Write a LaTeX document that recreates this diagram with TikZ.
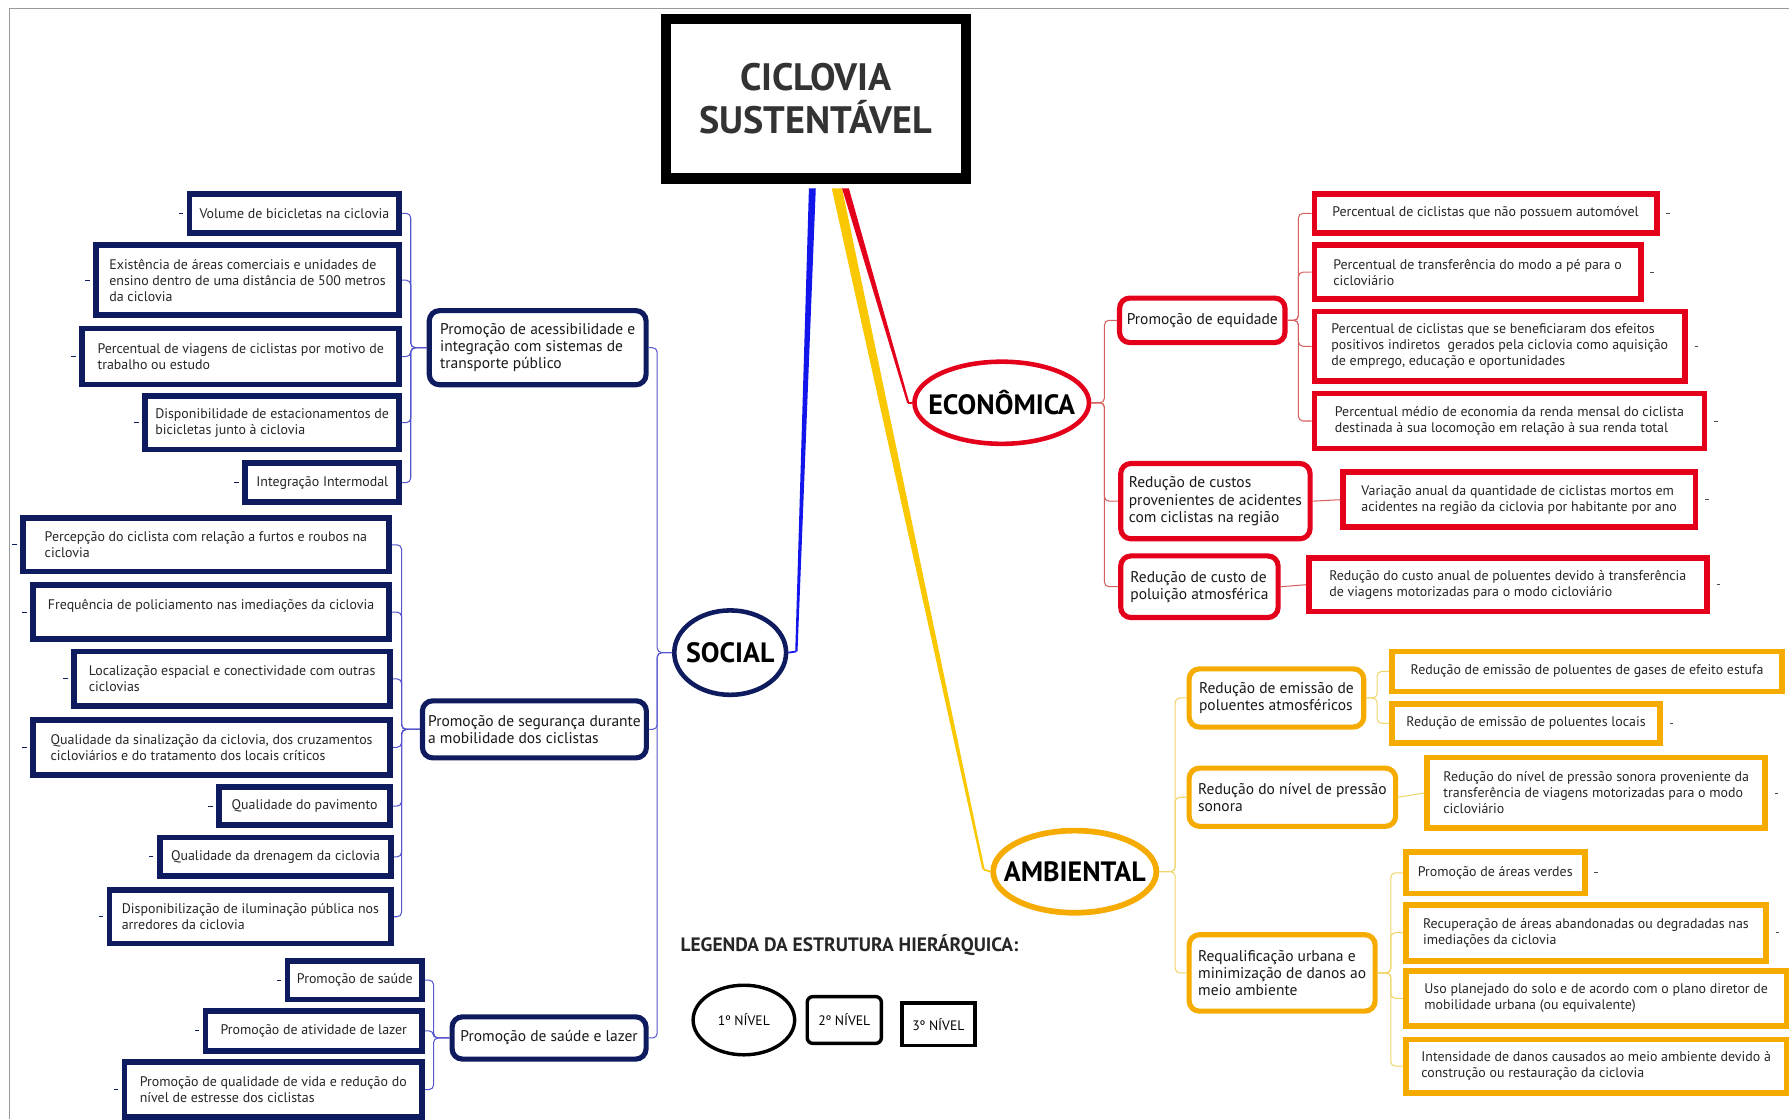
\documentclass[tikz,border=0pt]{standalone}
\usepackage{fontspec}
\setmainfont{PT Sans}
\usetikzlibrary{shapes.geometric, positioning, calc}

\definecolor{navy}{RGB}{14,27,94}
\definecolor{azul}{RGB}{18,22,235}
\definecolor{slinha}{RGB}{85,85,205}
\definecolor{verm}{RGB}{228,0,27}
\definecolor{elinha}{RGB}{215,95,95}
\definecolor{laranja}{RGB}{246,171,0}
\definecolor{amarelo}{RGB}{250,200,0}
\definecolor{alinha}{RGB}{240,212,105}

\tikzset{
  niveltres/.style={draw=#1, line width=5pt, fill=white, anchor=north west, align=left,
    inner xsep=5pt, inner ysep=2pt, text=black!85, font=\fontsize{12.2}{14}\selectfont},
  niveldois/.style={draw=#1, line width=4.5pt, rounded corners=9pt, fill=white, anchor=north west,
    align=left, inner xsep=5pt, inner ysep=2pt, text=black!90, font=\fontsize{13.6}{15}\selectfont},
  nivelum/.style={ellipse, draw=#1, line width=4pt, fill=white, inner sep=0pt,
    font=\fontsize{24.5}{26}\selectfont\bfseries},
  wh/.style n args={2}{minimum width=#1pt, minimum height=#2pt},
  ramo/.style={line width=0.9pt, rounded corners=4pt},
}

\begin{document}
\begin{tikzpicture}[x=1pt, y=-1pt]
  \useasboundingbox (0,0) rectangle (1568,981);
  \draw[black!40, line width=0.8pt] (8,981) -- (8,7) -- (1568,7);

  % raiz
  \node[draw, line width=9pt, minimum width=263pt, minimum height=140pt, align=center,
    text=black!80, font=\fontsize{33.5}{37}\selectfont\bfseries] (title) at (715,86.5) {CICLOVIA\\SUSTENTÁVEL};

  % 1o nivel
  \node[nivelum=navy, wh={98}{74}] (soc) at (640,572) {\makebox[0pt]{SOCIAL}};
  \node[nivelum=verm, wh={153}{72}] (eco) at (878,353) {\makebox[0pt]{ECONÔMICA}};
  \node[nivelum=laranja, line width=5pt, wh={143}{72}] (amb) at (942,764) {\makebox[0pt]{AMBIENTAL}};

  \coordinate (bj) at (698,571);
  \coordinate (rj) at (796,353);
  \coordinate (yj) at (862,762);
  \fill[azul] ($(title.south)+(-6,4)$) -- ($(title.south)+(0,4)$) -- ($(bj)+(1,0)$) -- ($(bj)+(-1,0)$) -- cycle;
  \fill[amarelo] ($(title.south)+(14,4)$) -- ($(title.south)+(23,4)$) -- ($(yj)+(1,0)$) -- ($(yj)+(-1,0)$) -- cycle;
  \fill[verm] ($(title.south)+(23,4)$) -- ($(title.south)+(29,4)$) -- ($(rj)+(1,0)$) -- ($(rj)+(-1,0)$) -- cycle;
  \draw[azul, line width=1.5pt] (bj) -- (soc.east);
  \draw[verm, line width=1.5pt] (rj) -- (eco.west);
  \draw[amarelo, line width=1.5pt] (yj) -- (amb.west);

  % social
  \node[niveldois=navy, wh={190}{65}] (s1) at (374,270) {Promoção de acessibilidade e\\integração com sistemas de\\transporte público};
  \node[niveldois=navy, wh={196}{50}] (s2) at (368,612) {Promoção de segurança durante\\a mobilidade dos ciclistas};
  \node[niveldois=navy, wh={170}{37}] (s3) at (394,889) {Promoção de saúde e lazer};

  \node[niveltres=navy, wh={184}{34}] (vol) at (163.5,167.5) {Volume de bicicletas na ciclovia};
  \node[niveltres=navy, wh={266}{61}] (com) at (81.5,212.5) {Existência de áreas comerciais e unidades de\\ensino dentro de uma distância de 500 metros\\da ciclovia};
  \node[niveltres=navy, wh={278}{49}] (via) at (69.5,285.5) {Percentual de viagens de ciclistas por motivo de\\trabalho ou estudo};
  \node[niveltres=navy, wh={223}{47}] (est) at (124.5,344.5) {Disponibilidade de estacionamentos de\\bicicletas junto à ciclovia};
  \node[niveltres=navy, wh={135}{34}] (int) at (212.5,403.5) {Integração Intermodal};

  \node[niveltres=navy, wh={321}{47}] (fur) at (17.5,451.5) {Percepção do ciclista com relação a furtos e roubos na\\ciclovia};
  \node[niveltres=navy, wh={312}{47}] (pol) at (26.5,510.5) {Frequência de policiamento nas imediações da ciclovia\\~};
  \node[niveltres=navy, wh={277}{48}] (loc) at (62.5,568.5) {Localização espacial e conectividade com outras\\ciclovias};
  \node[niveltres=navy, wh={313}{48}] (sin) at (26.5,628.5) {Qualidade da sinalização da ciclovia, dos cruzamentos\\cicloviários e do tratamento dos locais críticos};
  \node[niveltres=navy, wh={150}{33}] (pav) at (189.5,687.5) {Qualidade do pavimento};
  \node[niveltres=navy, wh={203}{34}] (dre) at (137.5,731.5) {Qualidade da drenagem da ciclovia};
  \node[niveltres=navy, wh={247}{47}] (ilu) at (93.5,777.5) {Disponibilização de iluminação pública nos\\arredores da ciclovia};

  \node[niveltres=navy, wh={118}{34}] (sau) at (249.5,839.5) {Promoção de saúde};
  \node[niveltres=navy, wh={190}{35}] (laz) at (177.5,883.5) {Promoção de atividade de lazer};
  \node[niveltres=navy, wh={261}{48}] (vid) at (106.5,928.5) {Promoção de qualidade de vida e redução do\\nível de estresse dos ciclistas};

  % economica
  \node[niveldois=verm, wh={145}{39}] (e1) at (979,259) {Promoção de equidade};
  \node[niveldois=verm, wh={166}{66}] (e2) at (980,404) {Redução de custos\\provenientes de acidentes\\com ciclistas na região};
  \node[niveldois=verm, wh={138}{54}] (e3) at (980,485) {Redução de custo de\\poluição atmosférica};

  \node[niveltres=verm, wh={300}{34}] (aut) at (1149.5,167.5) {Percentual de ciclistas que não possuem automóvel};
  \node[niveltres=verm, wh={286}{47}] (ape) at (1149.5,212.5) {Percentual de transferência do modo a pé para o\\cicloviário};
  \node[niveltres=verm, wh={325}{61}] (ben) at (1149.5,270.5) {Percentual de ciclistas que se beneficiaram dos efeitos\\positivos indiretos\ \ gerados pela ciclovia como aquisição\\de emprego, educação e oportunidades};
  \node[niveltres=verm, wh={342}{48}] (ren) at (1149.5,342.5) {Percentual médio de economia da renda mensal do ciclista\\destinada à sua locomoção em relação à sua renda total};
  \node[niveltres=verm, wh={309}{48}] (mor) at (1174.5,411.5) {Variação anual da quantidade de ciclistas mortos em\\acidentes na região da ciclovia por habitante por ano};
  \node[niveltres=verm, wh={349}{47}] (cus) at (1144.5,486.5) {Redução do custo anual de poluentes devido à transferência\\de viagens motorizadas para o modo cicloviário};

  % ambiental
  \node[niveldois=laranja, wh={153}{51}] (a1) at (1040,584) {Redução de emissão de\\poluentes atmosféricos};
  \node[niveldois=laranja, wh={181}{51}] (a2) at (1040,671) {Redução do nível de pressão\\sonora};
  \node[niveldois=laranja, wh={163}{67}] (a3) at (1040,817) {Requalificação urbana e\\minimização de danos ao\\meio ambiente};

  \node[niveltres=laranja, wh={342}{35}] (gas) at (1217.5,568.5) {Redução de emissão de poluentes de gases de efeito estufa};
  \node[niveltres=laranja, wh={235}{34}] (lcl) at (1217.5,614.5) {Redução de emissão de poluentes locais};
  \node[niveltres=laranja, wh={296}{62}] (son) at (1248.5,661.5) {Redução do nível de pressão sonora proveniente da\\transferência de viagens motorizadas para o modo\\cicloviário};
  \node[niveltres=laranja, wh={157}{36}] (ver) at (1229.5,744.5) {Promoção de áreas verdes};
  \node[niveltres=laranja, wh={316}{49}] (rec) at (1229.5,790.5) {Recuperação de áreas abandonadas ou degradadas nas\\imediações da ciclovia};
  \node[niveltres=laranja, wh={334}{48}] (uso) at (1229.5,848.5) {Uso planejado do solo e de acordo com o plano diretor de\\mobilidade urbana (ou equivalente)};
  \node[niveltres=laranja, wh={334}{47}] (dan) at (1229.5,908.5) {Intensidade de danos causados ao meio ambiente devido à\\construção ou restauração da ciclovia};

  % barramentos
  \coordinate (sbA) at (360,0);
  \coordinate (sbB) at (352,0);
  \coordinate (sbC) at (380,0);
  \coordinate (sbS) at (576,0);
  \coordinate (ebE) at (968,0);
  \coordinate (ebA) at (1138,0);
  \coordinate (abA) at (1030,0);
  \coordinate (abB) at (1207,0);
  \coordinate (abC) at (1219,0);

  \foreach \c in {s1,s2,s3}
    \draw[ramo, slinha] (soc.west) -- (soc.west -| sbS) |- (\c.east);
  \foreach \c in {vol,com,via,est,int}
    \draw[ramo, slinha] (s1.west) -- (s1.west -| sbA) |- (\c.east);
  \foreach \c in {fur,pol,loc,sin,pav,dre,ilu}
    \draw[ramo, slinha] (s2.west) -- (s2.west -| sbB) |- (\c.east);
  \foreach \c in {sau,laz,vid}
    \draw[ramo, slinha] (s3.west) -- (s3.west -| sbC) |- (\c.east);

  \foreach \c in {e1,e2,e3}
    \draw[ramo, elinha] (eco.east) -- (eco.east -| ebE) |- (\c.west);
  \foreach \c in {aut,ape,ben,ren}
    \draw[ramo, elinha] (e1.east) -- (e1.east -| ebA) |- (\c.west);
  \draw[ramo, elinha] (e2.east) -- (mor.west);
  \draw[ramo, elinha] (e3.east) -- (cus.west);

  \foreach \c in {a1,a2,a3}
    \draw[ramo, alinha] (amb.east) -- (amb.east -| abA) |- (\c.west);
  \foreach \c in {gas,lcl}
    \draw[ramo, alinha] (a1.east) -- (a1.east -| abB) |- (\c.west);
  \draw[ramo, alinha] (a2.east) -- (son.west);
  \foreach \c in {ver,rec,uso,dan}
    \draw[ramo, alinha] (a3.east) -- (a3.east -| abC) |- (\c.west);

  % marcas
  \foreach \c in {vol,com,via,est,int,fur,pol,loc,sin,pav,dre,ilu,sau,laz,vid}
    \draw[navy, line width=0.8pt] (\c.west) ++(-3,0) -- ++(-4,0);
  \foreach \c in {aut,ape,ben,ren,mor,cus,gas,lcl,son,ver,rec,uso,dan}
    \draw[black!70, line width=0.8pt] (\c.east) ++(6,0) -- ++(3,0);

  % legenda
  \node[anchor=west, text=black!85, font=\fontsize{17}{19}\selectfont\bfseries] (leg) at (593,828) {LEGENDA DA ESTRUTURA HIERÁRQUICA:};
  \node[ellipse, draw, line width=3pt, inner sep=0pt, wh={89}{61}, font=\fontsize{12}{13}\selectfont] (n1) at (652,894) {1º NÍVEL};
  \node[draw, line width=3pt, rounded corners=5pt, wh={65}{41}, font=\fontsize{12}{13}\selectfont] (n2) at (740,894) {2º NÍVEL};
  \node[draw, line width=3pt, wh={64}{37}, font=\fontsize{12}{13}\selectfont] (n3) at (822.5,897.7) {3º NÍVEL};
\end{tikzpicture}
\end{document}
